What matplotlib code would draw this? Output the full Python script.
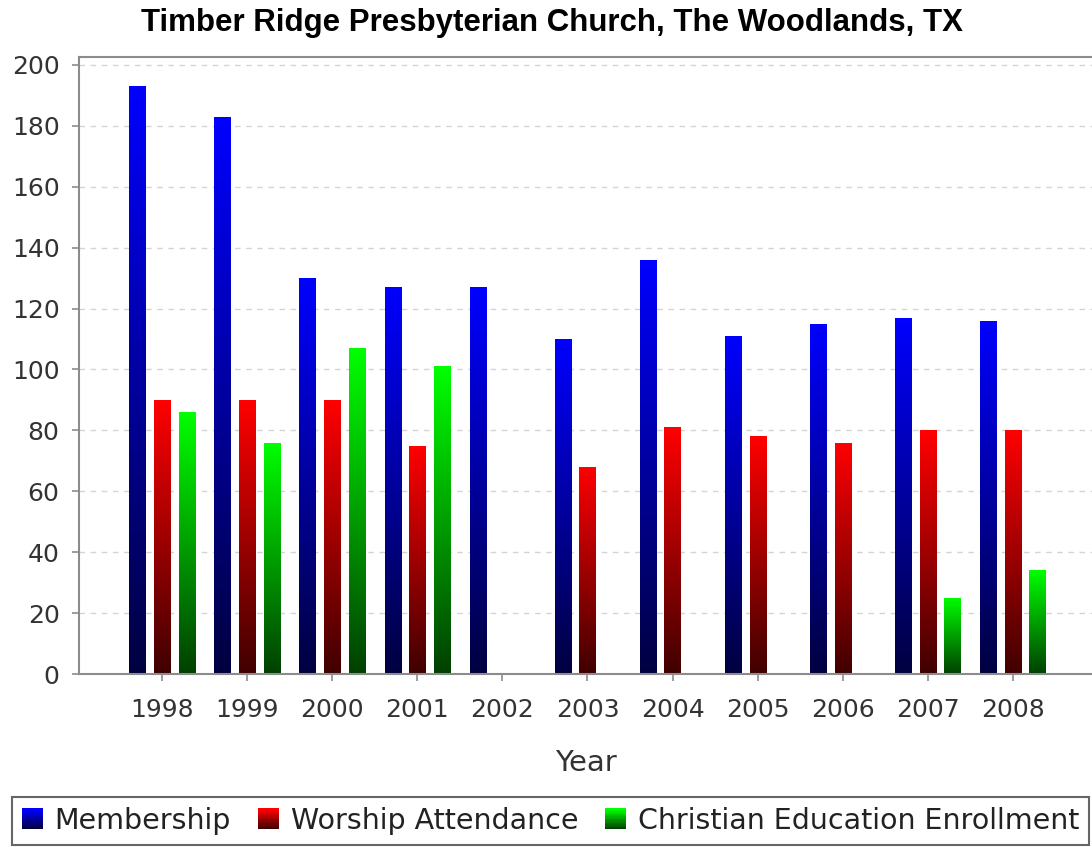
import matplotlib
matplotlib.use("Agg")
import matplotlib.pyplot as plt
import numpy as np
from matplotlib.colors import LinearSegmentedColormap
from matplotlib.patches import Rectangle
from matplotlib.legend_handler import HandlerBase

years = ["1998", "1999", "2000", "2001", "2002", "2003", "2004", "2005", "2006", "2007", "2008"]
membership = [193, 183, 130, 127, 127, 110, 136, 111, 115, 117, 116]
worship = [90, 90, 90, 75, np.nan, 68, 81, 78, 76, 80, 80]
education = [86, 76, 107, 101, np.nan, np.nan, np.nan, np.nan, np.nan, 25, 34]

series = [("Membership", membership, ("#000040", "#0000ff")),
          ("Worship Attendance", worship, ("#400000", "#ff0000")),
          ("Christian Education Enrollment", education, ("#004000", "#00ff00"))]


class GradientHandler(HandlerBase):
    # legend square with the same top-bright / bottom-dark fade as the bars
    def __init__(self, cmap):
        super().__init__()
        self.cmap = cmap

    def create_artists(self, legend, orig_handle, xdescent, ydescent,
                       width, height, fontsize, trans):
        n = 16
        out = []
        for k in range(n):
            r = Rectangle((-xdescent, -ydescent + k * height / n), width, height / n + 0.3,
                          facecolor=self.cmap(k / (n - 1)), edgecolor="none", transform=trans)
            out.append(r)
        return out


fig = plt.figure(figsize=(10.92, 8.47), dpi=100)
ax = fig.add_axes([79 / 1092, 1 - 674 / 847, 1 - 79 / 1092, (674 - 57) / 847])

x = np.arange(len(years))
width = 0.19
offsets = [-0.29, 0, 0.29]
grad = np.linspace(0, 1, 256).reshape(-1, 1)

handles = []
hmap = {}
for (name, vals, cols), off in zip(series, offsets):
    cmap = LinearSegmentedColormap.from_list(name, list(cols))
    bars = ax.bar(x + off, vals, width, color="none", edgecolor="none")
    for b in bars:
        h = b.get_height()
        if not h > 0:
            continue
        x0 = b.get_x()
        im = ax.imshow(grad, cmap=cmap, origin="lower", aspect="auto",
                       extent=(x0, x0 + b.get_width(), 0, h), zorder=2)
        im.set_clip_path(b)
    p = Rectangle((0, 0), 1, 1, label=name)
    handles.append(p)
    hmap[p] = GradientHandler(cmap)

ax.set_xlim(-0.976, 10.93)
ax.set_ylim(0, 202.6)
ax.set_yticks(np.arange(0, 201, 20))
ax.set_xticks(x)
ax.set_xticklabels(years)

ax.grid(axis="y", color="#d4d4d4", linestyle=(0, (4, 4)), linewidth=1)
ax.set_axisbelow(True)

for s in ["left", "bottom", "top"]:
    ax.spines[s].set_color("#8c8c8c")
    ax.spines[s].set_linewidth(1.5)
ax.spines["right"].set_visible(False)

ax.tick_params(axis="both", colors="#8c8c8c", labelcolor="#333333",
               labelsize=18, length=5, width=1.2, pad=9)
ax.tick_params(axis="x", pad=12)

ax.set_xlabel("Year", fontsize=21, color="#333333", labelpad=20)

fig.text(552 / 1092, 1 - 23 / 847, "Timber Ridge Presbyterian Church, The Woodlands, TX",
         ha="center", va="center", fontsize=22.5, fontweight="bold",
         family="Liberation Sans", color="black")

leg = fig.legend(handles=handles, handler_map=hmap, loc="upper left",
                 bbox_to_anchor=(12 / 1092, 1 - 797 / 847, (1089 - 12) / 1092, 0),
                 mode="expand", ncol=3, fontsize=20.5, frameon=True, fancybox=False,
                 edgecolor="#404040", borderaxespad=0, borderpad=0.35,
                 handlelength=0.75, handleheight=0.75, handletextpad=0.4,
                 columnspacing=0.5)
leg.get_frame().set_linewidth(1.5)
for t in leg.get_texts():
    t.set_color("#222222")

fig.savefig("out.png", dpi=100)
